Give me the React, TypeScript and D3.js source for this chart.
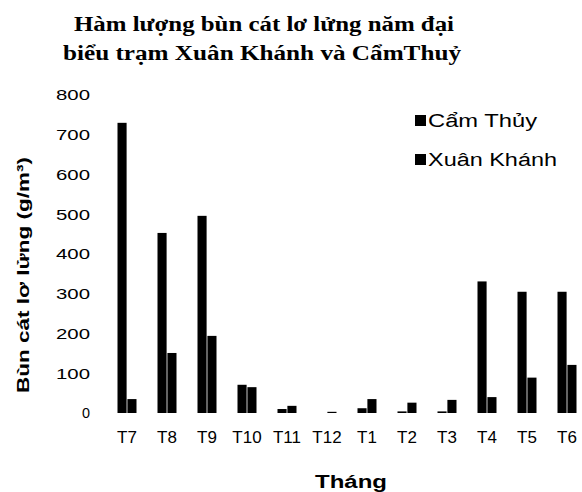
import React, { useEffect, useRef } from "react";
import * as d3 from "d3";

const months = ["T7", "T8", "T9", "T10", "T11", "T12", "T1", "T2", "T3", "T4", "T5", "T6"];
const series = ["Cẩm Thủy", "Xuân Khánh"];
const camThuy = [730, 453, 496, 71, 10, 0, 12, 4, 4, 331, 305, 305];
const xuanKhanh = [35, 151, 194, 65, 18, 3, 35, 26, 33, 40, 89, 121];
const yTicks = [0, 100, 200, 300, 400, 500, 600, 700, 800];

const App: React.FC = () => {
  const svgRef = useRef<SVGSVGElement>(null);

  useEffect(() => {
    if (!svgRef.current) return;
    const svg = d3.select(svgRef.current);
    svg.selectAll("*").remove();

    const plot = { left: 107, right: 587, top: 95, bottom: 413 };

    const x = d3
      .scaleBand()
      .domain(months)
      .range([plot.left, plot.right])
      .paddingInner(0.525)
      .paddingOuter(0.2625);

    const x1 = d3.scaleBand().domain(series).range([0, x.bandwidth()]).paddingInner(0.08);

    const y = d3.scaleLinear().domain([0, 800]).range([plot.bottom, plot.top]);

    // Title
    const title = svg
      .append("text")
      .attr("text-anchor", "middle")
      .style("font-family", "'Liberation Serif', 'Times New Roman', serif")
      .style("font-weight", "bold")
      .style("font-size", "20px");
    title
      .append("tspan")
      .attr("x", 264)
      .attr("y", 31)
      .attr("textLength", 380)
      .attr("lengthAdjust", "spacingAndGlyphs")
      .text("Hàm lượng bùn cát lơ lửng năm đại");
    title
      .append("tspan")
      .attr("x", 262)
      .attr("y", 60)
      .attr("textLength", 398)
      .attr("lengthAdjust", "spacingAndGlyphs")
      .text("biểu trạm Xuân Khánh và CẩmThuỷ");

    // Y axis tick labels
    svg
      .append("g")
      .selectAll("text")
      .data(yTicks)
      .enter()
      .append("text")
      .attr("x", 90)
      .attr("y", (d) => y(d))
      .attr("dy", "0.35em")
      .attr("text-anchor", "end")
      .attr("textLength", (d) => (d === 0 ? 8 : 34))
      .attr("lengthAdjust", "spacingAndGlyphs")
      .style("font-family", "Arial, 'Liberation Sans', sans-serif")
      .style("font-size", "15px")
      .text((d) => d);

    // X axis tick labels
    svg
      .append("g")
      .selectAll("text")
      .data(months)
      .enter()
      .append("text")
      .attr("x", (d) => (x(d) || 0) + x.bandwidth() / 2)
      .attr("y", 443)
      .attr("text-anchor", "middle")
      .style("font-family", "Arial, 'Liberation Sans', sans-serif")
      .style("font-size", "17px")
      .text((d) => d);

    // Bars
    const groups = svg
      .append("g")
      .selectAll("g")
      .data(months)
      .enter()
      .append("g")
      .attr("transform", (d) => `translate(${x(d)},0)`);

    groups
      .selectAll("rect")
      .data((_, i) => [
        { key: series[0], value: camThuy[i] },
        { key: series[1], value: xuanKhanh[i] },
      ])
      .enter()
      .append("rect")
      .attr("x", (d) => x1(d.key) || 0)
      .attr("y", (d) => y(d.value))
      .attr("width", x1.bandwidth())
      .attr("height", (d) => y(0) - y(d.value))
      .attr("fill", "#000");

    // Y axis label
    svg
      .append("text")
      .attr("transform", `translate(29,275) rotate(-90)`)
      .attr("text-anchor", "middle")
      .attr("textLength", 236)
      .attr("lengthAdjust", "spacingAndGlyphs")
      .style("font-family", "Arial, 'Liberation Sans', sans-serif")
      .style("font-weight", "bold")
      .style("font-size", "17px")
      .text("Bùn cát lơ lửng (g/m³)");

    // X axis label
    svg
      .append("text")
      .attr("x", 351)
      .attr("y", 488)
      .attr("text-anchor", "middle")
      .attr("textLength", 72)
      .attr("lengthAdjust", "spacingAndGlyphs")
      .style("font-family", "Arial, 'Liberation Sans', sans-serif")
      .style("font-weight", "bold")
      .style("font-size", "18px")
      .text("Tháng");

    // Legend
    const legend = svg
      .append("g")
      .selectAll("g")
      .data(series)
      .enter()
      .append("g")
      .attr("transform", (_, i) => `translate(415,${121 + i * 39})`);
    legend
      .append("rect")
      .attr("x", 0)
      .attr("y", -6)
      .attr("width", 11)
      .attr("height", 11)
      .attr("fill", "#000");
    legend
      .append("text")
      .attr("x", 13)
      .attr("y", 0)
      .attr("dy", "0.35em")
      .attr("textLength", (_, i) => (i === 0 ? 109 : 129))
      .attr("lengthAdjust", "spacingAndGlyphs")
      .style("font-family", "Arial, 'Liberation Sans', sans-serif")
      .style("font-size", "18px")
      .text((d) => d);
  }, []);

  return (
    <svg
      ref={svgRef}
      width={582}
      height={492}
      style={{ position: "absolute", left: 0, top: 0, background: "#fff" }}
    />
  );
};

export default App;
